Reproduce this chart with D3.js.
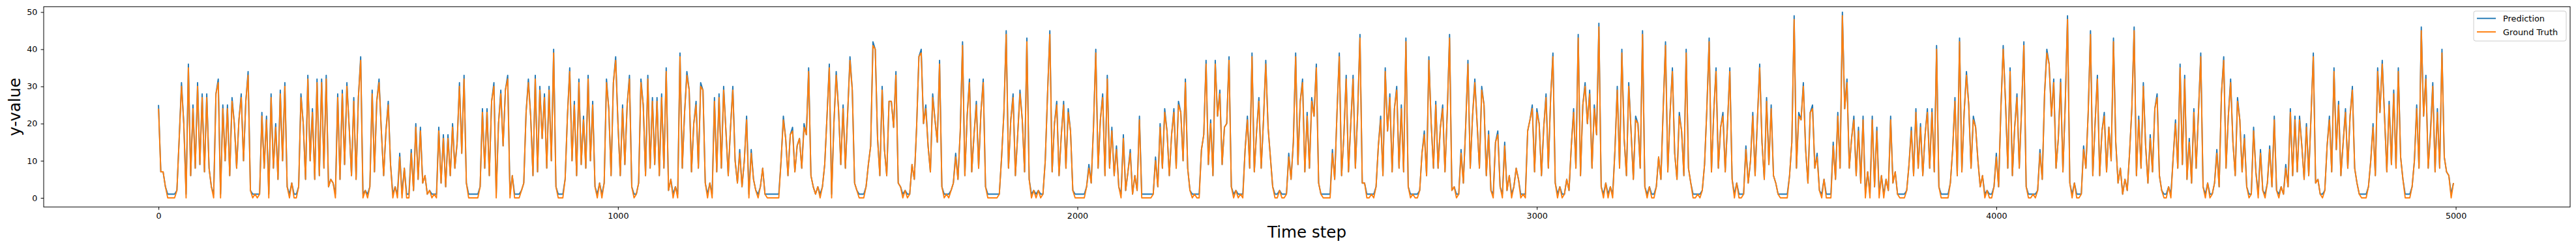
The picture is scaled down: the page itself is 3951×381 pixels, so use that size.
<!DOCTYPE html>
<html>
<head>
<meta charset="utf-8">
<script src="https://cdn.jsdelivr.net/npm/d3@7"></script>
<style>
  body { margin: 0; background: #fff; }
  text { font-family: "DejaVu Sans", sans-serif; }
</style>
</head>
<body>
<svg id="chart" width="3951" height="381"></svg>
<script>
// one value every 5 time steps (0, 5, 10, ... 4995)
var sampleEvery = 5;

var groundTruth = [
  24,7,7,3,0,0,0,0,2,16, 30,20,0,35,6,24,8,30,9,27, 7,27,8,3,0,28,31,0,24,10, 24,6,26,20,8,21,27,10,26,33,
  2,0,1,0,1,22,8,21,0,27, 8,19,5,28,10,30,3,0,4,0, 0,3,27,20,5,32,10,23,5,31, 6,31,8,32,3,5,4,0,27,5,
  28,9,30,19,6,26,5,27,37,0, 2,0,3,28,7,26,31,18,6,18, 25,9,0,3,0,11,0,8,0,0, 12,2,19,5,18,4,6,1,2,0,
  1,0,18,4,16,3,16,6,19,8, 15,30,12,32,4,0,0,0,0,0, 3,23,8,23,6,26,30,0,20,28, 14,29,32,0,6,0,0,0,2,4,
  23,31,22,6,32,7,29,16,27,8, 29,10,39,3,0,0,0,5,22,34, 10,25,6,31,9,21,8,32,10,25, 3,0,4,0,4,31,24,6,31,37,
  20,6,24,9,25,32,3,0,1,4, 31,25,6,32,8,26,9,26,6,27, 8,34,2,5,0,3,0,38,8,23, 33,29,7,20,25,8,30,29,4,0,
  4,0,26,7,27,8,29,18,6,19, 29,10,4,12,3,10,21,0,12,5, 2,0,3,8,1,0,0,0,0,0, 0,10,21,16,6,17,18,7,14,16,
  8,19,17,34,6,3,1,3,0,3, 9,22,35,0,20,33,24,9,24,8, 23,37,29,4,2,0,0,0,3,9, 14,41,40,16,6,29,13,6,26,26,
  19,33,4,3,0,2,0,1,9,5, 19,38,39,20,24,14,7,27,21,15, 36,3,0,1,0,2,4,11,5,18, 41,6,22,31,7,17,25,8,23,31,
  3,0,0,0,0,0,1,11,23,44, 8,21,27,6,17,28,21,7,42,5, 0,2,0,2,0,1,10,28,44,7, 20,25,6,17,25,8,23,18,2,0,
  0,0,0,0,3,8,4,19,39,8, 21,27,6,32,8,18,6,13,3,0, 16,2,7,12,1,6,2,21,0,0, 0,0,0,1,10,3,19,8,23,18,
  6,17,23,8,25,23,10,31,8,2, 0,1,0,0,13,17,36,9,20,6, 36,22,28,9,19,20,37,3,0,2, 0,1,0,13,21,8,38,7,18,26,
  8,21,36,19,11,3,0,0,2,0, 0,1,11,5,15,38,9,26,31,7, 22,8,26,22,35,4,1,0,0,0, 0,12,5,23,38,6,17,32,7,20,
  32,8,23,43,4,4,0,0,1,0, 3,14,21,6,34,18,27,7,24,29, 8,24,7,42,3,0,1,0,0,2, 12,17,6,37,20,8,25,8,19,24,
  7,23,43,2,3,0,1,12,4,19, 36,8,22,31,20,8,29,25,6,17, 2,0,15,17,3,0,14,2,6,0, 3,8,5,0,1,0,18,21,24,7,
  23,20,6,19,27,8,27,38,4,0, 3,0,1,5,2,14,23,8,43,6, 25,30,20,28,8,24,17,46,3,0, 4,0,3,0,13,29,8,39,16,6,
  30,18,5,21,20,8,44,3,0,3, 0,0,3,11,5,24,41,7,23,34, 12,5,22,18,6,39,8,4,0,0, 1,0,2,9,24,42,7,23,34,8,
  19,22,7,20,34,5,0,4,0,0, 1,13,4,10,22,6,21,35,15,5, 26,9,24,6,4,1,0,0,0,0, 6,15,48,8,22,21,30,13,4,23,
  24,8,11,2,0,5,0,0,0,14, 5,22,8,49,24,31,8,16,21,6, 18,4,21,0,7,0,21,3,18,0, 6,0,5,2,21,4,7,1,0,0,
  0,2,9,18,6,23,8,19,6,17, 23,8,23,7,40,3,0,0,0,0, 4,13,26,6,42,7,23,33,25,8, 21,19,10,3,6,0,2,0,0,3,
  11,3,24,40,26,8,34,6,19,27, 8,24,41,3,0,0,1,0,2,12, 5,28,39,36,22,31,8,16,31,7, 25,48,4,0,4,0,0,1,13,8,
  23,44,6,20,32,6,18,22,7,19, 10,42,15,4,8,1,5,2,12,24, 45,6,21,8,30,14,4,16,7,24, 27,6,2,0,0,3,0,11,20,8,
  35,9,32,5,15,4,23,8,23,38, 3,0,4,0,1,4,12,3,28,37, 8,22,31,15,6,26,21,7,16,3, 0,1,18,7,0,12,2,0,4,13,
  3,21,2,0,3,1,8,3,23,6, 21,7,21,14,5,19,6,22,38,4, 5,1,0,2,14,21,7,34,13,25, 6,15,23,8,22,29,8,4,1,0,
  0,0,3,10,19,6,34,23,36,22, 7,25,9,28,8,34,11,5,0,0, 0,3,10,24,8,45,22,32,8,17, 30,7,23,8,39,11,7,6,0,4
];

var prediction = [
  25,7,7,3,1,1,1,1,2,16, 31,20,1,36,6,25,8,31,9,28, 7,28,8,3,1,28,32,1,25,10, 25,6,27,20,8,21,28,10,26,34,
  2,1,1,1,1,23,8,22,1,28, 8,20,5,29,10,31,3,1,4,1, 1,3,28,20,5,33,10,24,5,32, 6,32,8,33,3,5,4,1,28,5,
  29,9,31,19,6,27,5,27,38,1, 2,1,3,29,7,26,32,18,6,18, 26,9,1,3,1,12,1,8,1,1, 13,2,20,5,19,4,6,1,2,1,
  1,1,19,4,17,3,17,6,20,8, 15,31,12,33,4,1,1,1,1,1, 3,24,8,24,6,26,31,1,20,29, 14,29,33,1,6,1,1,1,2,4,
  23,32,22,6,33,7,30,16,28,8, 30,10,40,3,1,1,1,5,22,35, 10,26,6,32,9,22,8,33,10,26, 3,1,4,1,4,32,24,6,31,38,
  20,6,25,9,25,33,3,1,1,4, 32,25,6,33,8,27,9,27,6,28, 8,35,2,5,1,3,1,39,8,23, 34,29,7,20,26,8,31,29,4,1,
  4,1,27,7,28,8,30,18,6,19, 30,10,4,13,3,10,22,1,13,5, 2,1,3,8,1,1,1,1,1,1, 1,10,22,16,6,17,19,7,14,16,
  8,20,17,35,6,3,1,3,1,3, 9,22,36,1,20,34,24,9,25,8, 23,38,29,4,2,1,1,1,3,9, 14,42,40,16,6,30,13,6,26,26,
  19,34,4,3,1,2,1,1,9,5, 19,38,40,20,25,14,7,28,21,15, 37,3,1,1,1,2,4,12,5,18, 42,6,22,32,7,17,26,8,23,32,
  3,1,1,1,1,1,1,11,23,45, 8,21,28,6,17,29,21,7,43,5, 1,2,1,2,1,1,10,28,45,7, 20,26,6,17,26,8,24,18,2,1,
  1,1,1,1,3,9,4,19,40,8, 21,28,6,33,8,19,6,14,3,1, 17,2,7,13,1,6,2,22,1,1, 1,1,1,1,11,3,20,8,24,18,
  6,17,24,8,26,23,10,32,8,2, 1,1,1,1,13,17,37,9,21,6, 37,22,29,9,19,20,38,3,1,2, 1,1,1,13,22,8,39,7,18,27,
  8,21,37,19,11,3,1,1,2,1, 1,1,12,5,15,39,9,26,32,7, 23,8,27,22,36,4,1,1,1,1, 1,13,5,23,39,6,17,33,7,20,
  33,8,23,44,4,4,1,1,1,1, 3,14,22,6,35,18,28,7,24,30, 8,25,7,43,3,1,1,1,1,2, 12,18,6,38,20,8,26,8,19,25,
  7,23,44,2,3,1,1,13,4,19, 37,8,22,32,20,8,30,25,6,18, 2,1,15,18,3,1,15,2,6,1, 3,8,5,1,1,1,18,21,25,7,
  24,20,6,19,28,8,27,39,4,1, 3,1,1,5,2,14,24,8,44,6, 25,31,20,29,8,25,17,47,3,1, 4,1,3,1,13,30,8,40,16,6,
  31,18,5,22,20,8,45,3,1,3, 1,1,3,11,5,24,42,7,23,35, 12,5,23,18,6,40,8,4,1,1, 1,1,2,9,24,43,7,23,35,8,
  19,23,7,20,35,5,1,4,1,1, 1,14,4,10,23,6,21,36,15,5, 27,9,25,6,4,1,1,1,1,1, 6,15,49,8,23,21,31,13,4,23,
  25,8,12,2,1,5,1,1,1,15, 5,23,8,50,24,32,8,16,22,6, 19,4,22,1,7,1,22,3,19,1, 6,1,5,2,22,4,7,1,1,1,
  1,2,9,19,6,24,8,20,6,17, 24,8,24,7,41,3,1,1,1,1, 4,13,27,6,43,7,23,34,25,8, 22,19,10,3,6,1,2,1,1,3,
  12,3,24,41,26,8,35,6,19,28, 8,24,42,3,1,1,1,1,2,13, 5,28,40,36,22,32,8,16,32,7, 25,49,4,1,4,1,1,1,14,8,
  23,45,6,20,33,6,18,23,7,19, 10,43,15,4,8,1,5,2,12,24, 46,6,22,8,31,14,4,17,7,24, 28,6,2,1,1,3,1,11,21,8,
  36,9,33,5,16,4,24,8,23,39, 3,1,4,1,1,4,13,3,28,38, 8,22,32,15,6,27,21,7,17,3, 1,1,19,7,1,13,2,1,4,14,
  3,22,2,1,3,1,9,3,24,6, 22,7,22,14,5,20,6,22,39,4, 5,1,1,2,14,22,7,35,13,26, 6,15,24,8,22,30,8,4,1,1,
  1,1,3,10,20,6,35,23,37,22, 7,26,9,29,8,35,11,5,1,1, 1,3,10,25,8,46,22,33,8,18, 31,7,24,8,40,11,7,6,1,4
];

var xTicks = [0, 1000, 2000, 3000, 4000, 5000];
var yTicks = [0, 10, 20, 30, 40, 50];
var seriesNames = ["Prediction", "Ground Truth"];
var seriesColors = ["#1f77b4", "#ff7f0e"];

var svg = d3.select("#chart");
var box = { left: 67, right: 3942, top: 10.3, bottom: 318 };

// matplotlib style 5% padding around the data
var lastStep = 4999;
var xs = d3.scaleLinear()
    .domain([-0.05 * lastStep, lastStep * 1.05])
    .range([box.left, box.right]);
var ys = d3.scaleLinear()
    .domain([-2.45, 51.45])
    .range([box.bottom, box.top]);

svg.append("rect")
    .attr("width", 3951).attr("height", 381)
    .attr("fill", "#fff");

var line = d3.line()
    .x(function (d, i) { return xs(i * sampleEvery); })
    .y(function (d) { return ys(d); })
    .curve(d3.curveLinear);

[prediction, groundTruth].forEach(function (vals, k) {
    svg.append("path")
        .datum(vals)
        .attr("fill", "none")
        .attr("stroke", seriesColors[k])
        .attr("stroke-width", 1.9)
        .attr("stroke-linejoin", "round")
        .attr("d", line);
});

// X-axis
var x_axis = d3.axisBottom(xs)
    .tickValues(xTicks)
    .tickFormat(d3.format("d"))
    .tickSize(4.4)
    .tickPadding(4.8);

svg.append("g")
    .attr("class", "axis")
    .attr("transform", `translate(0,${box.bottom})`)
    .call(x_axis);

// Y-axis
var y_axis = d3.axisLeft(ys)
    .tickValues(yTicks)
    .tickFormat(d3.format("d"))
    .tickSize(4.4)
    .tickPadding(5.2);

svg.append("g")
    .attr("class", "axis")
    .attr("transform", `translate(${box.left},0)`)
    .call(y_axis);

svg.selectAll(".axis .domain").remove();
svg.selectAll(".axis line").attr("stroke", "#000").attr("stroke-width", 1);
svg.selectAll(".axis text")
    .attr("fill", "#000")
    .style("font-family", "DejaVu Sans")
    .style("font-size", "12.7px");

// frame
svg.append("rect")
    .attr("x", box.left).attr("y", box.top)
    .attr("width", box.right - box.left)
    .attr("height", box.bottom - box.top)
    .attr("fill", "none")
    .attr("stroke", "#000")
    .attr("stroke-width", 1);

// axis titles
svg.append("text")
    .attr("x", (box.left + box.right) / 2)
    .attr("y", 364.7)
    .attr("text-anchor", "middle")
    .style("font-size", "24.6px")
    .text("Time step");

svg.append("text")
    .attr("transform", `translate(31,${(box.top + box.bottom) / 2}) rotate(-90)`)
    .attr("text-anchor", "middle")
    .style("font-size", "24.6px")
    .text("y-value");

// legend
var legend = svg.append("g").attr("transform", "translate(3794,17)");
legend.append("rect")
    .attr("width", 142).attr("height", 46)
    .attr("rx", 3)
    .attr("fill", "#fff").attr("fill-opacity", 0.8)
    .attr("stroke", "#cccccc");

seriesNames.forEach(function (name, k) {
    var yy = 11.3 + k * 20.7;
    legend.append("line")
        .attr("x1", 5).attr("x2", 34)
        .attr("y1", yy).attr("y2", yy)
        .attr("stroke", seriesColors[k])
        .attr("stroke-width", 1.9);
    legend.append("text")
        .attr("x", 45).attr("y", yy + 4.6)
        .style("font-size", "12.9px")
        .text(name);
});
</script>
</body>
</html>
